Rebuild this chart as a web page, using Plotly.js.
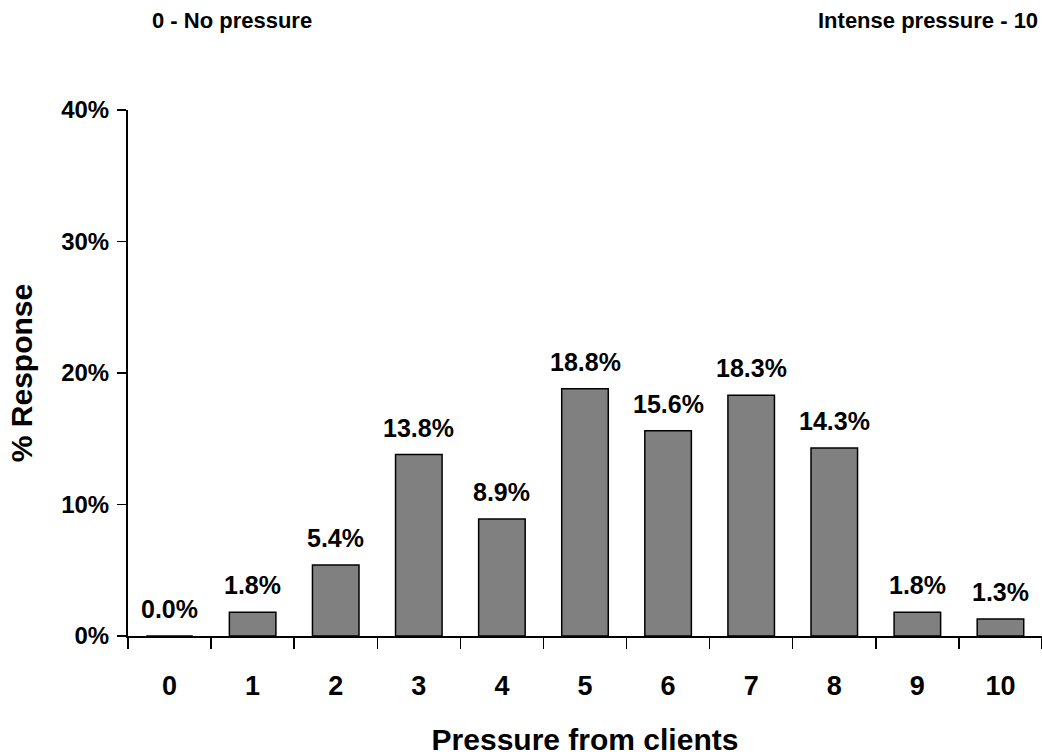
<!DOCTYPE html>
<html>
<head>
<meta charset="utf-8">
<script src="https://cdn.plot.ly/plotly-3.0.1.min.js"></script>
<style>html,body{margin:0;padding:0;background:#fff;}#chart{width:1042px;height:756px;}</style>
</head>
<body>
<div id="chart"></div>
<script>
const categories = ["0","1","2","3","4","5","6","7","8","9","10"];
const values = [0.0, 1.8, 5.4, 13.8, 8.9, 18.8, 15.6, 18.3, 14.3, 1.8, 1.3];
const valueLabels = ["0.0%","1.8%","5.4%","13.8%","8.9%","18.8%","15.6%","18.3%","14.3%","1.8%","1.3%"];
const yTickVals = [0, 10, 20, 30, 40];
const yTickText = ["0%","10%","20%","30%","40%"];

const FONT = "Liberation Sans, Arial, sans-serif";

const trace = {
  type: "bar",
  x: categories,
  y: values,
  marker: {color: "#808080", line: {color: "#000000", width: 1.5}},
  hoverinfo: "none"
};

const annotations = categories.map((c, i) => ({
  x: c, y: values[i], xref: "x", yref: "y",
  text: valueLabels[i], showarrow: false,
  yanchor: "middle", yshift: 27,
  font: {family: FONT, size: 25, color: "#000", weight: "bold"}
}));
annotations.push({
  xref: "paper", yref: "paper", x: 22/914, y: 1,
  text: "0 - No pressure", showarrow: false, xanchor: "left", yanchor: "middle",
  yshift: 90, font: {family: FONT, size: 22, color: "#000", weight: "bold"}
});
annotations.push({
  xref: "paper", yref: "paper", x: 1, y: 1,
  text: "Intense pressure - 10", showarrow: false, xanchor: "right", yanchor: "middle",
  xshift: -2, yshift: 90, font: {family: FONT, size: 22, color: "#000", weight: "bold"}
});

const layout = {
  width: 1042, height: 756,
  margin: {l: 128, r: 0, t: 110, b: 120},
  paper_bgcolor: "#ffffff", plot_bgcolor: "#ffffff",
  showlegend: false,
  bargap: 0.44,
  font: {family: FONT, color: "#000"},
  xaxis: {
    type: "category", range: [-0.5, 10.5],
    showline: true, linecolor: "#000", linewidth: 2,
    ticks: "outside", ticklen: 11, tickwidth: 1.5, tickcolor: "#000",
    tickson: "boundaries", showgrid: false, zeroline: false,
    ticklabelstandoff: 25,
    tickfont: {family: FONT, size: 27, color: "#000", weight: "bold"},
    title: {text: "Pressure from clients", standoff: 34,
      font: {family: FONT, size: 30, color: "#000", weight: "bold"}}
  },
  yaxis: {
    range: [0, 40], tickvals: yTickVals, ticktext: yTickText,
    showline: true, linecolor: "#000", linewidth: 2,
    ticks: "outside", ticklen: 9, tickwidth: 1.5, tickcolor: "#000",
    showgrid: false, zeroline: false,
    ticklabelstandoff: 3,
    tickfont: {family: FONT, size: 24, color: "#000", weight: "bold"},
    title: {text: "% Response", standoff: 20,
      font: {family: FONT, size: 30, color: "#000", weight: "bold"}}
  },
  annotations: annotations
};

Plotly.newPlot("chart", [trace], layout, {displayModeBar: false, staticPlot: true});
</script>
</body>
</html>
